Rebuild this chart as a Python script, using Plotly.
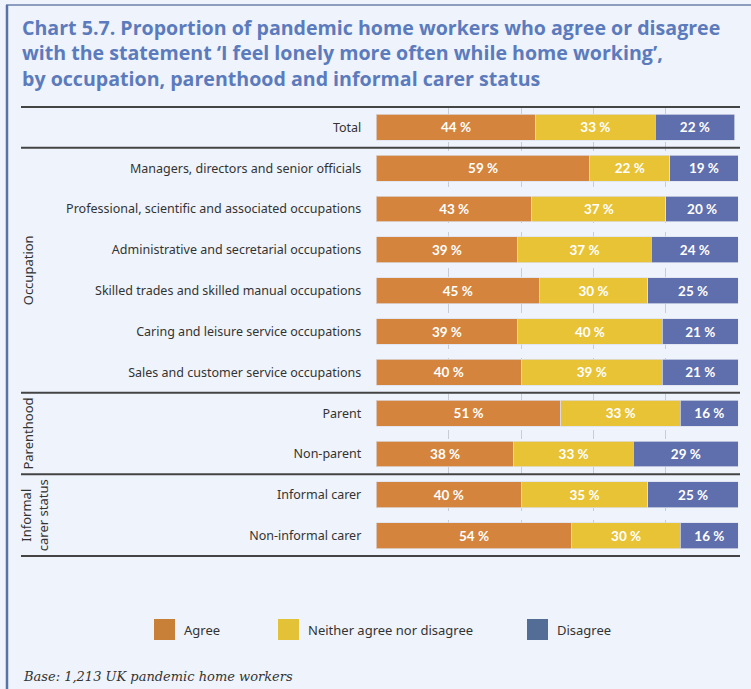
import plotly.graph_objects as go

# Survey rows, top to bottom
categories = [
    "Total",
    "Managers, directors and senior officials",
    "Professional, scientific and associated occupations",
    "Administrative and secretarial occupations",
    "Skilled trades and skilled manual occupations",
    "Caring and leisure service occupations",
    "Sales and customer service occupations",
    "Parent",
    "Non-parent",
    "Informal carer",
    "Non-informal carer",
]
agree = [44, 59, 43, 39, 45, 39, 40, 51, 38, 40, 54]
neither = [33, 22, 37, 37, 30, 40, 39, 33, 33, 35, 30]
disagree = [22, 19, 20, 24, 25, 21, 21, 16, 29, 25, 16]

series_names = ["Agree", "Neither agree nor disagree", "Disagree"]
bar_colors = ["#d4843c", "#e8c335", "#5f6eac"]
legend_colors = ["#c87f37", "#e3c238", "#546d96"]

# Group headings, the category index they are centred on, and their x pixel
groups = [("Occupation", 3.5, 28), ("Parenthood", 7.5, 28),
          ("Informal<br>carer status", 9.5, 34)]
# Rule positions between groups (category coordinates)
rules = [-0.5, 0.5, 6.5, 8.5, 10.5]

title_text = ("Chart 5.7. Proportion of pandemic home workers who agree or disagree<br>"
              "with the statement ‘I feel lonely more often while home working’,<br>"
              "by occupation, parenthood and informal carer status")
footnote = "Base: 1,213 UK pandemic home workers"

W, H = 751, 689
BG = "#eff3fb"
TEXT_FONT = "Noto Sans"
BOLD_FONT = "Lato"


def px(x):
    return x / W


def py(y):
    return 1 - y / H


fig = go.Figure()
for name, vals, col in zip(series_names, [agree, neither, disagree], bar_colors):
    fig.add_trace(go.Bar(
        y=categories, x=vals, name=name, orientation="h",
        marker=dict(color=col, line=dict(color="rgba(220,224,236,0.9)", width=0.8)),
        text=vals, texttemplate="%{text} %", textposition="inside",
        insidetextanchor="middle", textangle=0,
        textfont=dict(family=BOLD_FONT, size=13.5, color="white", weight="bold"),
        showlegend=False,
        hoverinfo="skip",
    ))

fig.update_layout(
    width=W, height=H,
    margin=dict(l=0, r=0, t=0, b=0),
    paper_bgcolor=BG, plot_bgcolor=BG,
    barmode="stack", bargap=0.366,
    xaxis=dict(
        domain=[px(376.3), px(738.3)], range=[0, 100],
        tickvals=[0, 20, 40, 60, 80, 100], showticklabels=False,
        showgrid=True, gridcolor="#c9ccd4", griddash="dash", gridwidth=1,
        zeroline=False, showline=False,
    ),
    yaxis=dict(
        domain=[py(557), py(106)],
        categoryorder="array", categoryarray=categories, autorange="reversed",
        showgrid=False, zeroline=False, showline=False,
        ticks="", ticklabelstandoff=14,
        tickfont=dict(family=TEXT_FONT, size=12.5, color="#333333"),
    ),
    font=dict(family=TEXT_FONT, color="#333333"),
)

shapes = []
# Frame lines
shapes.append(dict(type="line", xref="paper", yref="paper",
                   x0=px(6), x1=1, y0=py(5), y1=py(5),
                   line=dict(color="#8d9dc0", width=2)))
shapes.append(dict(type="line", xref="paper", yref="paper",
                   x0=px(7), x1=px(7), y0=py(5), y1=0,
                   line=dict(color="#5a73a6", width=2.5)))
# Group rules
for r in rules:
    shapes.append(dict(type="line", xref="paper", yref="y",
                       x0=px(21), x1=px(740), y0=r, y1=r,
                       line=dict(color="#444444", width=2)))

annotations = [dict(
    text=title_text, xref="paper", yref="paper", x=px(20), y=py(53),
    xanchor="left", yanchor="middle", align="left", showarrow=False,
    font=dict(family="Open Sans", size=19.6, color="#5b7bbd", weight="bold"),
)]

for label, yc, gx in groups:
    annotations.append(dict(
        text=label, xref="paper", yref="y", x=px(gx), y=yc,
        xanchor="center", yanchor="middle", textangle=-90, showarrow=False,
        font=dict(family=TEXT_FONT, size=13, color="#333333"),
    ))

# Legend built from swatches and labels
legend_x = [154, 278, 527]
for name, col, lx in zip(series_names, legend_colors, legend_x):
    shapes.append(dict(type="rect", xref="paper", yref="paper",
                       x0=px(lx), x1=px(lx + 21), y0=py(640), y1=py(619),
                       fillcolor=col, line=dict(width=0)))
    annotations.append(dict(
        text=name, xref="paper", yref="paper", x=px(lx + 28), y=py(630),
        xanchor="left", yanchor="middle", showarrow=False,
        font=dict(family=TEXT_FONT, size=13, color="#333333"),
    ))

annotations.append(dict(
    text=footnote, xref="paper", yref="paper", x=px(21), y=py(676),
    xanchor="left", yanchor="middle", showarrow=False,
    font=dict(family="DejaVu Serif", size=13, color="#333333", style="italic"),
))

fig.update_layout(shapes=shapes, annotations=annotations)
fig.write_html("out.html")
